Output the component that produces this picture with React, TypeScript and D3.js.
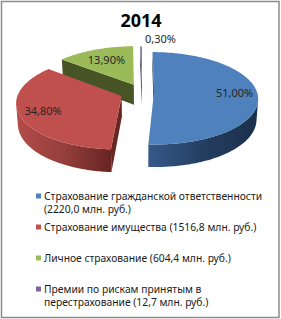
import React, { useEffect, useRef } from 'react';
import * as d3 from 'd3';

const year = '2014';
const categories = [
  'Страхование гражданской ответственности',
  'Страхование имущества',
  'Личное страхование',
  'Премии по рискам принятым в перестрахование',
];
const amounts = ['2220,0', '1516,8', '604,4', '12,7'];
const shares = [51.0, 34.8, 13.9, 0.3];

const topColors = ['#4F81BD', '#C0504D', '#9BBB59', '#8064A2'];
const sideColors = [
  ['#36598A', '#243E61', '#1B2F4B'],
  ['#B34B48', '#953F3D', '#672523'],
  ['#465426', '#36411D', '#303A1A'],
  ['#54426B', '#453757', '#3A2E49'],
];

const W = 281;
const H = 319;

// 3D pie projection settings
const cx = 142;
const cy = 92;
const R = 103;
const tilt = Math.asin(0.44);
const focal = 700;
const thick = 23;
const explode = [12, 22, 19, 16];
const labelPos = [0.78, 0.78, 0.68, 1.12];

const project = (x: number, y: number, z: number): [number, number] => {
  const v = y * Math.sin(tilt) + z * Math.cos(tilt);
  const w = y * Math.cos(tilt) - z * Math.sin(tilt);
  const s = focal / (focal + w);
  return [cx + x * s, cy - v * s];
};
const camY = -focal * Math.cos(tilt);

const fmtPct = (v: number) => d3.format('.2f')(v).replace('.', ',') + '%';

const App = () => {
  const ref = useRef<SVGSVGElement>(null);

  useEffect(() => {
    const svg = d3.select(ref.current);
    svg.selectAll('*').remove();
    const defs = svg.append('defs');

    svg.append('rect')
      .attr('x', 1.5).attr('y', 1.5)
      .attr('width', W - 3.5).attr('height', H - 3)
      .attr('fill', '#fff')
      .attr('stroke', '#8c8c8c')
      .attr('stroke-width', 1.5);

    svg.append('text')
      .attr('x', 141).attr('y', 27)
      .attr('text-anchor', 'middle')
      .style('font-family', "'Noto Sans', sans-serif")
      .style('font-weight', 'bold')
      .style('font-size', '18px')
      .text(year);

    const arcs = d3.pie<number>().sort(null).startAngle(0).endAngle(2 * Math.PI)(shares);

    const slices = arcs.map((a, i) => {
      const mid = (a.startAngle + a.endAngle) / 2;
      const vx = explode[i] * Math.sin(mid);
      const vy = explode[i] * Math.cos(mid);
      return { a, i, mid, vx, vy };
    });

    const line = d3.line<[number, number]>();
    const g = svg.append('g');

    // back to front
    const order = [...slices].sort((p, q) => q.vy - p.vy);

    order.forEach(({ a, i, vx, vy, mid }) => {
      const rim = (t: number, z: number) => project(vx + R * Math.sin(t), vy + R * Math.cos(t), z);
      const steps = Math.max(2, Math.ceil((a.endAngle - a.startAngle) / (Math.PI / 180)));
      const ts = d3.range(steps + 1).map(k => a.startAngle + (a.endAngle - a.startAngle) * k / steps);

      const topPts = ts.map(t => rim(t, 0));
      const xs = topPts.map(p => p[0]);
      const gid = `side${i}`;
      const grad = defs.append('linearGradient')
        .attr('id', gid)
        .attr('gradientUnits', 'userSpaceOnUse')
        .attr('x1', d3.min(xs)!).attr('x2', d3.max(xs)!)
        .attr('y1', 0).attr('y2', 0);
      sideColors[i].forEach((c, k) => {
        grad.append('stop').attr('offset', k / (sideColors[i].length - 1)).attr('stop-color', c);
      });

      const v0 = project(vx, vy, 0);
      const v1 = project(vx, vy, -thick);

      // cut faces
      const faces: number[] = [];
      const dStart = Math.cos(a.startAngle) * vx + Math.sin(a.startAngle) * (camY - vy);
      const dEnd = -Math.cos(a.endAngle) * vx - Math.sin(a.endAngle) * (camY - vy);
      if (dStart > 0) faces.push(a.startAngle);
      if (dEnd > 0) faces.push(a.endAngle);
      faces.forEach(t => {
        g.append('path')
          .attr('d', line([v0, rim(t, 0), rim(t, -thick), v1])! + 'Z')
          .attr('fill', sideColors[i][i === 2 ? 0 : 2]);
      });

      // outer wall, visible runs only
      const vis = ts.map(t => {
        const px = vx + R * Math.sin(t);
        const py = vy + R * Math.cos(t);
        return Math.sin(t) * (0 - px) + Math.cos(t) * (camY - py) > 0;
      });
      let run: number[] = [];
      const flush = () => {
        if (run.length > 1) {
          const upper = run.map(t => rim(t, 0));
          const lower = run.map(t => rim(t, -thick)).reverse();
          g.append('path')
            .attr('d', line([...upper, ...lower])! + 'Z')
            .attr('fill', `url(#${gid})`);
        }
        run = [];
      };
      ts.forEach((t, k) => {
        if (vis[k]) run.push(t); else flush();
      });
      flush();

      // top face
      g.append('path')
        .attr('d', line([v0, ...topPts])! + 'Z')
        .attr('fill', topColors[i]);

      // data label
      const lr = R * labelPos[i];
      const lp = project(vx + lr * Math.sin(mid), vy + lr * Math.cos(mid), 0);
      const outside = labelPos[i] > 1;
      svg.append('text')
        .attr('x', outside ? lp[0] + 4 : lp[0])
        .attr('y', outside ? lp[1] - 3 : lp[1])
        .attr('dy', '0.35em')
        .attr('text-anchor', outside ? 'start' : 'middle')
        .attr('fill', '#262626')
        .style('font-family', "'Noto Sans', sans-serif")
        .style('font-size', '11px')
        .text(fmtPct(shares[i]));
    });

    // legend
    const maxW = 226;
    const lg = svg.append('g');
    categories.forEach((c, i) => {
      const y0 = 196 + i * 31;
      lg.append('rect')
        .attr('x', 36).attr('y', y0 - 2.5)
        .attr('width', 5).attr('height', 5)
        .attr('fill', topColors[i]);
      const txt = lg.append('text')
        .attr('x', 44).attr('y', y0)
        .attr('fill', '#1a1a1a')
        .style('font-family', "'Noto Sans', sans-serif")
        .style('font-size', '10.3px');
      const words = `${c} (${amounts[i]} млн. руб.)`.split(' ');
      let cur: string[] = [];
      let tspan = txt.append('tspan').attr('x', 44).attr('dy', '0.35em');
      words.forEach(wd => {
        cur.push(wd);
        tspan.text(cur.join(' '));
        if ((tspan.node() as SVGTSpanElement).getComputedTextLength() > maxW && cur.length > 1) {
          cur.pop();
          tspan.text(cur.join(' '));
          cur = [wd];
          tspan = txt.append('tspan').attr('x', 44).attr('dy', '13.5px').text(wd);
        }
      });
    });
  }, []);

  return (
    <svg
      ref={ref}
      width={W}
      height={H}
      style={{ position: 'absolute', left: 0, top: 0 }}
    />
  );
};

export default App;
